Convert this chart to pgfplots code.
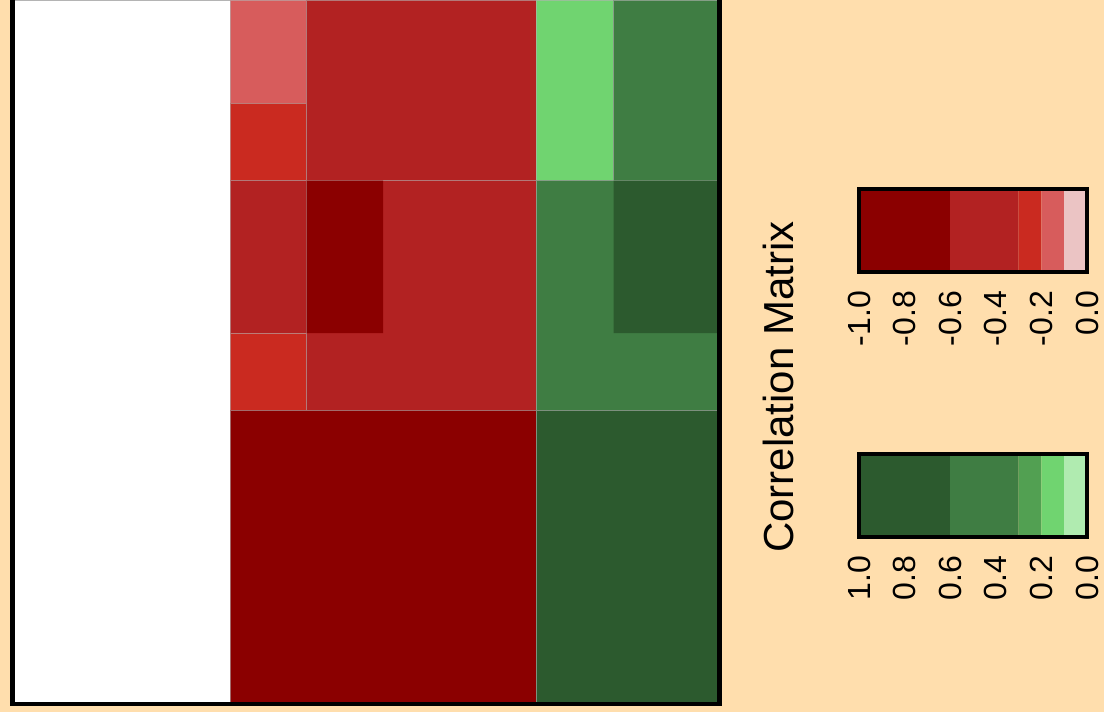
\documentclass[border=0pt]{standalone}
\usepackage{pgfplots}
\pgfplotsset{compat=1.18}
\usepackage{fontspec}
\setmainfont{Liberation Sans}
\definecolor{bg}{HTML}{FFDEAD}
\definecolor{rA}{HTML}{8B0000}
\definecolor{rB}{HTML}{B22222}
\definecolor{rC}{HTML}{CA2A20}
\definecolor{rD}{HTML}{D75C5C}
\definecolor{rE}{HTML}{EBC4C4}
\definecolor{gA}{HTML}{2C5A2E}
\definecolor{gB}{HTML}{3F7D43}
\definecolor{gC}{HTML}{52A052}
\definecolor{gD}{HTML}{70D470}
\definecolor{gE}{HTML}{B0EBB0}
\definecolor{cellline}{HTML}{B4B4B4}
\begin{document}
\begin{tikzpicture}
\fill[bg] (0,0) rectangle (552pt,-356pt);
\begin{axis}[at={(6.25pt,0pt)}, anchor=north west, scale only axis,
  width=353.5pt, height=352pt, xmin=12.5, xmax=719.5, ymin=0, ymax=704,
  y dir=reverse, axis line style={draw=none}, ticks=none, clip=false]
\fill[white] (axis cs:12.5,0) rectangle (axis cs:719.5,704);
\draw[cellline, line width=0.5pt] (axis cs:14.5,0.5) -- (axis cs:719.5,0.5);
\pgfplotsset{every axis plot/.append style={draw=cellline, draw opacity=0.6, line width=0.35pt}}
% red block
\addplot[fill=rD] coordinates {(230,0) (306,0) (306,103) (230,103) (230,0)};
\addplot[fill=rC] coordinates {(230,103) (306,103) (306,180) (230,180) (230,103)};
\addplot[fill=rB] coordinates {(306,0) (536,0) (536,180) (306,180) (306,0)};
\addplot[fill=rB] coordinates {(230,180) (306,180) (306,333) (230,333) (230,180)};
\addplot[fill=rC] coordinates {(230,333) (306,333) (306,410) (230,410) (230,333)};
\addplot[fill=rB] coordinates {(306,180) (536,180) (536,410) (306,410) (306,180)};
\addplot[fill=rA, draw=none] coordinates {(306.5,180.5) (383,180.5) (383,333) (306.5,333) (306.5,180.5)};
\addplot[fill=rA] coordinates {(230,410) (536,410) (536,704) (230,704) (230,410)};
% green block
\addplot[fill=gD] coordinates {(536,0) (613,0) (613,180) (536,180) (536,0)};
\addplot[fill=gB] coordinates {(613,0) (717,0) (717,180) (613,180) (613,0)};
\addplot[fill=gB] coordinates {(536,180) (717,180) (717,410) (536,410) (536,180)};
\addplot[fill=gA, draw=none] coordinates {(613.5,180.5) (717,180.5) (717,333) (613.5,333) (613.5,180.5)};
\addplot[fill=gA] coordinates {(536,410) (717,410) (717,704) (536,704) (536,410)};
\draw[line width=2.4pt] (axis cs:12.5,0) -- (axis cs:12.5,704) -- (axis cs:719.5,704) -- (axis cs:719.5,0);
\end{axis}
% red colour key
\begin{axis}[at={(429.5pt,-94.5pt)}, anchor=north west, scale only axis,
  width=114pt, height=41.5pt, xmin=-1, xmax=0, ymin=0, ymax=1, ytick=\empty,
  xtick={-1,-0.8,-0.6,-0.4,-0.2,0}, xticklabels={-1.0,-0.8,-0.6,-0.4,-0.2,0.0},
  major tick length=0pt, axis on top, xticklabel shift=6pt,
  xticklabel style={rotate=90, anchor=east, font=\fontsize{16}{19}\selectfont},
  axis line style={line width=1.6pt}]
\addplot[fill=rA, draw=none] coordinates {(-1,0) (-0.6,0) (-0.6,1) (-1,1) (-1,0)};
\addplot[fill=rB, draw=none] coordinates {(-0.6,0) (-0.3,0) (-0.3,1) (-0.6,1) (-0.6,0)};
\addplot[fill=rC, draw=none] coordinates {(-0.3,0) (-0.2,0) (-0.2,1) (-0.3,1) (-0.3,0)};
\addplot[fill=rD, draw=none] coordinates {(-0.2,0) (-0.1,0) (-0.1,1) (-0.2,1) (-0.2,0)};
\addplot[fill=rE, draw=none] coordinates {(-0.1,0) (0,0) (0,1) (-0.1,1) (-0.1,0)};
\end{axis}
% green colour key
\begin{axis}[at={(429.5pt,-227pt)}, anchor=north west, scale only axis,
  width=114pt, height=41.5pt, xmin=0, xmax=1, x dir=reverse, ymin=0, ymax=1, ytick=\empty,
  xtick={1,0.8,0.6,0.4,0.2,0}, xticklabels={1.0,0.8,0.6,0.4,0.2,0.0},
  major tick length=0pt, axis on top, xticklabel shift=6pt,
  xticklabel style={rotate=90, anchor=east, font=\fontsize{16}{19}\selectfont},
  axis line style={line width=1.6pt}]
\addplot[fill=gA, draw=none] coordinates {(1,0) (0.6,0) (0.6,1) (1,1) (1,0)};
\addplot[fill=gB, draw=none] coordinates {(0.6,0) (0.3,0) (0.3,1) (0.6,1) (0.6,0)};
\addplot[fill=gC, draw=none] coordinates {(0.3,0) (0.2,0) (0.2,1) (0.3,1) (0.3,0)};
\addplot[fill=gD, draw=none] coordinates {(0.2,0) (0.1,0) (0.1,1) (0.2,1) (0.2,0)};
\addplot[fill=gE, draw=none] coordinates {(0.1,0) (0,0) (0,1) (0.1,1) (0.1,0)};
\end{axis}
\node[rotate=90, anchor=base, font=\fontsize{21}{25}\selectfont] at (396.5pt,-193.5pt) {Correlation Matrix};
\pgfresetboundingbox
\path[use as bounding box] (0,0) rectangle (552pt,-356pt);
\end{tikzpicture}
\end{document}
